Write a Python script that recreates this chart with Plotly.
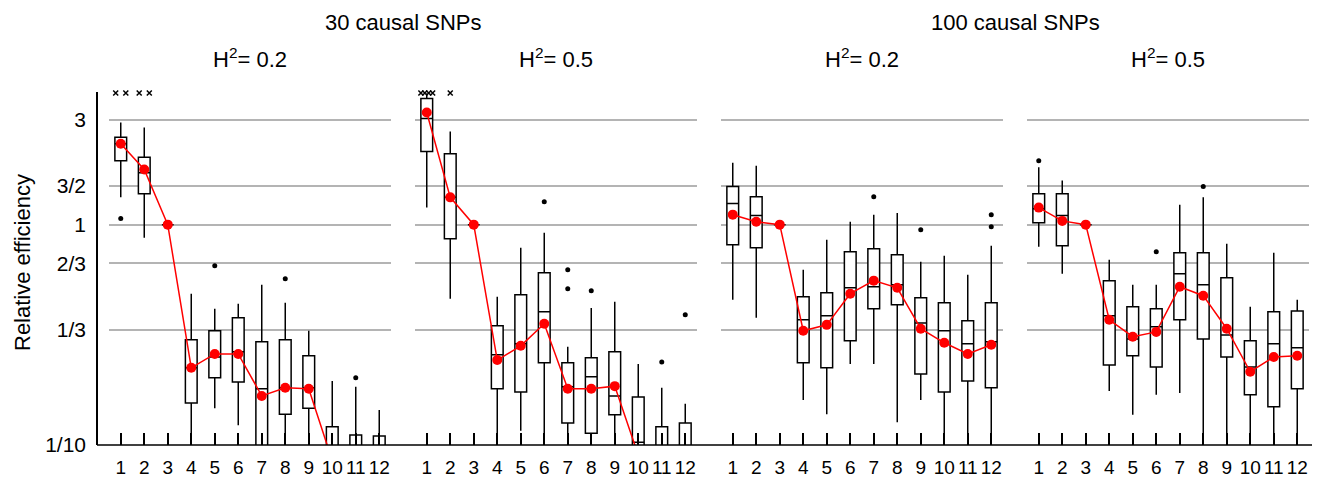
import numpy as np
import plotly.graph_objects as go
from plotly.subplots import make_subplots

categories = list(range(1, 13))
group_titles = ["30 causal SNPs", "100 causal SNPs"]
h2_titles = ["H<sup>2</sup>= 0.2", "H<sup>2</sup>= 0.5", "H<sup>2</sup>= 0.2", "H<sup>2</sup>= 0.5"]

ytick_vals = [0.1, 1/3, 2/3, 1, 1.5, 3]
ytick_text = ["1/10", "1/3", "2/3", "1", "3/2", "3"]

# Panel A: 30 causal SNPs, H2 = 0.2
A_lo = [1.33, 0.873, 1, 0.06, 0.147, 0.123, 0.05, 0.06, 0.07, 0.03, 0.03, 0.03]
A_q1 = [1.95, 1.38, 1, 0.155, 0.202, 0.193, 0.08, 0.138, 0.147, 0.05, 0.05, 0.05]
A_med = [2.33, 1.72, 1, 0.224, 0.251, 0.265, 0.18, 0.182, 0.182, 0.07, 0.07, 0.07]
A_q3 = [2.49, 2.02, 1, 0.30, 0.33, 0.378, 0.294, 0.30, 0.254, 0.121, 0.111, 0.11]
A_hi = [2.91, 2.76, 1, 0.486, 0.415, 0.438, 0.534, 0.442, 0.33, 0.195, 0.184, 0.144]
A_mean = [2.33, 1.78, 1, 0.224, 0.259, 0.259, 0.167, 0.182, 0.18, 0.085, 0.07, 0.07]
A_out_cat = [1, 5, 8, 11]
A_out_val = [1.065, 0.651, 0.568, 0.202]
A_offscale = [2, 2, 0, 0, 0, 0, 0, 0, 0, 0, 0, 0]

# Panel B: 30 causal SNPs, H2 = 0.5
B_lo = [1.195, 0.461, 1, 0.06, 0.116, 0.06, 0.06, 0.06, 0.06, 0.03, 0.03, 0.03]
B_q1 = [2.15, 0.864, 1, 0.18, 0.174, 0.236, 0.126, 0.113, 0.137, 0.05, 0.05, 0.05]
B_med = [3.03, 1.33, 1, 0.257, 0.288, 0.402, 0.184, 0.204, 0.167, 0.103, 0.07, 0.07]
B_q3 = [3.74, 2.10, 1, 0.348, 0.481, 0.605, 0.236, 0.249, 0.265, 0.165, 0.121, 0.126]
B_hi = [3.94, 2.65, 1, 0.471, 0.786, 0.92, 0.279, 0.419, 0.447, 0.233, 0.182, 0.154]
B_mean = [3.23, 1.33, 1, 0.243, 0.282, 0.355, 0.18, 0.18, 0.185, 0.09, 0.07, 0.07]
B_out_cat = [6, 7, 7, 8, 11, 12]
B_out_val = [1.27, 0.624, 0.512, 0.501, 0.238, 0.39]
B_offscale = [4, 1, 0, 0, 0, 0, 0, 0, 0, 0, 0, 0]

# Panel C: 100 causal SNPs, H2 = 0.2
C_lo = [0.456, 0.378, 1, 0.16, 0.138, 0.233, 0.233, 0.127, 0.16, 0.07, 0.07, 0.07]
C_q1 = [0.811, 0.786, 1, 0.236, 0.224, 0.297, 0.415, 0.433, 0.21, 0.174, 0.195, 0.182]
C_med = [1.246, 1.10, 1, 0.37, 0.386, 0.517, 0.523, 0.534, 0.358, 0.33, 0.288, 0.294]
C_q3 = [1.49, 1.34, 1, 0.471, 0.491, 0.754, 0.778, 0.73, 0.466, 0.442, 0.366, 0.442]
C_hi = [1.91, 1.85, 1, 0.624, 0.855, 1.03, 1.11, 1.13, 0.679, 0.723, 0.592, 0.803]
C_mean = [1.11, 1.03, 1, 0.33, 0.351, 0.486, 0.557, 0.517, 0.337, 0.291, 0.259, 0.285]
C_out_cat = [7, 9, 12, 12]
C_out_val = [1.34, 0.949, 1.11, 0.979]
C_offscale = [0] * 12

# Panel D: 100 causal SNPs, H2 = 0.5
D_lo = [0.794, 0.599, 1, 0.176, 0.137, 0.169, 0.172, 0.07, 0.07, 0.07, 0.07, 0.07]
D_q1 = [1.02, 0.803, 1, 0.231, 0.254, 0.226, 0.37, 0.303, 0.251, 0.169, 0.149, 0.18]
D_med = [1.18, 1.10, 1, 0.386, 0.303, 0.344, 0.599, 0.534, 0.316, 0.226, 0.288, 0.276]
D_q3 = [1.38, 1.38, 1, 0.557, 0.424, 0.415, 0.746, 0.746, 0.574, 0.297, 0.402, 0.406]
D_hi = [1.82, 1.585, 1, 0.693, 0.534, 0.534, 1.23, 1.33, 0.82, 0.424, 0.746, 0.456]
D_mean = [1.195, 1.04, 1, 0.37, 0.31, 0.326, 0.523, 0.476, 0.337, 0.215, 0.251, 0.254]
D_out_cat = [1, 6, 8]
D_out_val = [1.95, 0.754, 1.49]
D_offscale = [0] * 12

panels = [
    (A_lo, A_q1, A_med, A_q3, A_hi, A_mean, A_out_cat, A_out_val, A_offscale),
    (B_lo, B_q1, B_med, B_q3, B_hi, B_mean, B_out_cat, B_out_val, B_offscale),
    (C_lo, C_q1, C_med, C_q3, C_hi, C_mean, C_out_cat, C_out_val, C_offscale),
    (D_lo, D_q1, D_med, D_q3, D_hi, D_mean, D_out_cat, D_out_val, D_offscale),
]

# page body has an 8px margin; shrink the figure so it fits the window exactly
OFF = 8
W, H = 1320 - OFF, 478 - OFF
ML, MR, MT, MB = 97 - OFF, 0, 92 - OFF, 33
PW = W - ML - MR
PH = H - MT - MB
panel_px = [(109, 391), (415, 697), (721, 1003), (1027, 1309)]
domains = [((a - OFF - ML) / PW, (b - OFF - ML) / PW) for a, b in panel_px]

Y_TOP = 10 ** 0.602
FONT = "Liberation Sans, Arial, sans-serif"

fig = make_subplots(rows=1, cols=4, shared_yaxes=True)

for i, (lo, q1, med, q3, hi, mean, oc, ov, offs) in enumerate(panels):
    col = i + 1
    fig.add_trace(go.Box(
        x=categories, q1=q1, median=med, q3=q3, lowerfence=lo, upperfence=hi,
        width=0.5, whiskerwidth=0, fillcolor="white",
        line=dict(color="black", width=1.5), hoverinfo="skip", showlegend=False,
    ), row=1, col=col)
    fig.add_trace(go.Scatter(
        x=categories, y=mean, mode="lines+markers",
        line=dict(color="#ff0000", width=1.5),
        marker=dict(color="#ff0000", size=10),
        showlegend=False, hoverinfo="skip",
    ), row=1, col=col)
    fig.add_trace(go.Scatter(
        x=oc, y=ov, mode="markers",
        marker=dict(color="black", size=5),
        showlegend=False, hoverinfo="skip",
    ), row=1, col=col)
    # off-scale high values shown as crosses at the top of the panel
    xs, ys = [], []
    for c, n in zip(categories, offs):
        if n > 0:
            span = min(0.43 * (n - 1), 0.5)
            for o in np.linspace(-span / 2, span / 2, n):
                xs.append(c + o)
                ys.append(Y_TOP * 0.99)
    if xs:
        fig.add_trace(go.Scatter(
            x=xs, y=ys, mode="markers", cliponaxis=False,
            marker=dict(symbol="x-thin", size=5, line=dict(color="black", width=1.5)),
            showlegend=False, hoverinfo="skip",
        ), row=1, col=col)

for i in range(4):
    xa = "xaxis" if i == 0 else f"xaxis{i+1}"
    fig.layout[xa].update(
        domain=list(domains[i]), range=[0.5, 12.5],
        tickmode="array", tickvals=categories, ticktext=[str(c) for c in categories],
        ticks="inside", ticklen=12, tickwidth=1.5, tickcolor="black",
        showgrid=False, showline=False, zeroline=False,
        tickangle=0, automargin=False, ticklabelstandoff=9,
        tickfont=dict(family=FONT, size=19, color="black"),
    )
    ya = "yaxis" if i == 0 else f"yaxis{i+1}"
    fig.layout[ya].update(
        type="log", range=[-1, 0.602], automargin=False,
        tickmode="array", tickvals=ytick_vals, ticktext=ytick_text,
        showgrid=True, gridcolor="#b4b4b4", gridwidth=1.5,
        zeroline=False, ticks="",
    )

fig.layout.yaxis.update(
    anchor="free", position=0, showline=True, linecolor="black", linewidth=1.5,
    showticklabels=True, ticklabelstandoff=6,
    tickfont=dict(family=FONT, size=21, color="black"),
)
for i in range(1, 4):
    fig.layout[f"yaxis{i+1}"].update(showticklabels=False, showline=False)

shapes = [dict(type="line", xref="paper", yref="paper", x0=0, x1=1, y0=0, y1=0,
               line=dict(color="black", width=1.5), layer="above")]

def py(p):
    return (MT + PH - (p - OFF)) / PH

annotations = []
for g, title in enumerate(group_titles):
    cx = (domains[2 * g][0] + domains[2 * g + 1][1]) / 2
    annotations.append(dict(text=title, x=cx, y=py(22), xref="paper", yref="paper",
                            showarrow=False, xanchor="center", yanchor="middle",
                            font=dict(family=FONT, size=22, color="black")))
for i, t in enumerate(h2_titles):
    cx = (domains[i][0] + domains[i][1]) / 2
    annotations.append(dict(text=t, x=cx, y=py(58), xref="paper", yref="paper",
                            showarrow=False, xanchor="center", yanchor="middle",
                            font=dict(family=FONT, size=22, color="black")))
annotations.append(dict(text="Relative efficiency", x=(22 - OFF - ML) / PW, y=py(263),
                        xref="paper", yref="paper", showarrow=False, textangle=-90,
                        xanchor="center", yanchor="middle",
                        font=dict(family=FONT, size=22, color="black")))

fig.update_layout(
    width=W, height=H,
    margin=dict(l=ML, r=MR, t=MT, b=MB, autoexpand=False),
    paper_bgcolor="white", plot_bgcolor="white",
    shapes=shapes, annotations=annotations, showlegend=False,
    font=dict(family=FONT, color="black"),
)

fig.write_html("out.html")
